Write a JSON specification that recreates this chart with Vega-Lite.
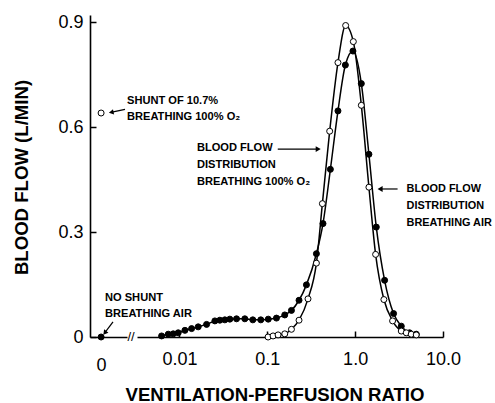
{
  "$schema": "https://vega.github.io/schema/vega-lite/v6.json",
  "background": "white",
  "padding": {"left": 12, "top": 12, "right": 0, "bottom": 0},
  "bounds": "flush",
  "spacing": 10,
  "config": {
    "view": {"stroke": null},
    "axis": {
      "domainColor": "black", "domainWidth": 1.6, "tickColor": "black", "tickWidth": 1.5,
      "tickSize": -6, "labelColor": "black", "labelFont": "Liberation Sans", "labelFontSize": 18,
      "titleFont": "Liberation Sans", "titleFontWeight": "bold", "titleFontSize": 18.6,
      "titleColor": "black", "grid": false
    },
    "text": {"font": "Liberation Sans", "fontWeight": "bold", "fontSize": 11.1, "color": "black"}
  },
  "datasets": {
    "curves": [
      {"gas": "air", "ratio": 0.00627, "flow": 0.003},
      {"gas": "air", "ratio": 0.00746, "flow": 0.008},
      {"gas": "air", "ratio": 0.0085, "flow": 0.009},
      {"gas": "air", "ratio": 0.00969, "flow": 0.012},
      {"gas": "air", "ratio": 0.01155, "flow": 0.019},
      {"gas": "air", "ratio": 0.01376, "flow": 0.024},
      {"gas": "air", "ratio": 0.01636, "flow": 0.029},
      {"gas": "air", "ratio": 0.02038, "flow": 0.036},
      {"gas": "air", "ratio": 0.02532, "flow": 0.046},
      {"gas": "air", "ratio": 0.02885, "flow": 0.048},
      {"gas": "air", "ratio": 0.03289, "flow": 0.049},
      {"gas": "air", "ratio": 0.03749, "flow": 0.051},
      {"gas": "air", "ratio": 0.04467, "flow": 0.052},
      {"gas": "air", "ratio": 0.0555, "flow": 0.052},
      {"gas": "air", "ratio": 0.06842, "flow": 0.049},
      {"gas": "air", "ratio": 0.08437, "flow": 0.049},
      {"gas": "air", "ratio": 0.1026, "flow": 0.051},
      {"gas": "air", "ratio": 0.1272, "flow": 0.054},
      {"gas": "air", "ratio": 0.1581, "flow": 0.063},
      {"gas": "air", "ratio": 0.1884, "flow": 0.076},
      {"gas": "air", "ratio": 0.2298, "flow": 0.105},
      {"gas": "air", "ratio": 0.279, "flow": 0.149},
      {"gas": "air", "ratio": 0.3624, "flow": 0.238},
      {"gas": "air", "ratio": 0.4306, "flow": 0.324},
      {"gas": "air", "ratio": 0.5226, "flow": 0.479},
      {"gas": "air", "ratio": 0.6376, "flow": 0.646},
      {"gas": "air", "ratio": 0.7739, "flow": 0.777},
      {"gas": "air", "ratio": 0.9441, "flow": 0.817},
      {"gas": "air", "ratio": 1.1765, "flow": 0.724},
      {"gas": "air", "ratio": 1.435, "flow": 0.522},
      {"gas": "air", "ratio": 1.741, "flow": 0.314},
      {"gas": "air", "ratio": 2.164, "flow": 0.162},
      {"gas": "air", "ratio": 2.738, "flow": 0.067},
      {"gas": "air", "ratio": 3.35, "flow": 0.031},
      {"gas": "air", "ratio": 4.163, "flow": 0.012},
      {"gas": "air", "ratio": 4.961, "flow": 0.008},
      {"gas": "o2", "ratio": 0.1021, "flow": 0.0},
      {"gas": "o2", "ratio": 0.1164, "flow": 0.003},
      {"gas": "o2", "ratio": 0.1327, "flow": 0.006},
      {"gas": "o2", "ratio": 0.1581, "flow": 0.009},
      {"gas": "o2", "ratio": 0.1884, "flow": 0.022},
      {"gas": "o2", "ratio": 0.2298, "flow": 0.048},
      {"gas": "o2", "ratio": 0.2908, "flow": 0.109},
      {"gas": "o2", "ratio": 0.3624, "flow": 0.211},
      {"gas": "o2", "ratio": 0.4239, "flow": 0.381},
      {"gas": "o2", "ratio": 0.5131, "flow": 0.588},
      {"gas": "o2", "ratio": 0.6376, "flow": 0.784},
      {"gas": "o2", "ratio": 0.7798, "flow": 0.89},
      {"gas": "o2", "ratio": 0.9539, "flow": 0.844},
      {"gas": "o2", "ratio": 1.1765, "flow": 0.662},
      {"gas": "o2", "ratio": 1.435, "flow": 0.428},
      {"gas": "o2", "ratio": 1.71, "flow": 0.236},
      {"gas": "o2", "ratio": 2.125, "flow": 0.107},
      {"gas": "o2", "ratio": 2.668, "flow": 0.046},
      {"gas": "o2", "ratio": 3.35, "flow": 0.017},
      {"gas": "o2", "ratio": 3.817, "flow": 0.012},
      {"gas": "o2", "ratio": 4.351, "flow": 0.008},
      {"gas": "o2", "ratio": 4.961, "flow": 0.006}
    ],
    "shunt": [
      {"gas": "air", "ratio": 0, "flow": 0},
      {"gas": "o2", "ratio": 0, "flow": 0.64}
    ]
  },
  "hconcat": [
    {
      "width": 37,
      "height": 322,
      "layer": [
        {
          "data": {"name": "shunt"},
          "mark": {"type": "point", "filled": true, "size": 36, "opacity": 1, "strokeWidth": 1},
          "encoding": {
            "x": {
              "field": "ratio", "type": "quantitative",
              "scale": {"domain": [-0.3, 0.7], "nice": false, "zero": false},
              "axis": {"values": [0], "title": null, "labelPadding": 19, "labelFlush": false, "ticks": false}
            },
            "y": {
              "field": "flow", "type": "quantitative",
              "scale": {"domain": [0, 0.92], "nice": false},
              "axis": {
                "values": [0, 0.3, 0.6, 0.9],
                "labelExpr": "datum.value == 0 ? '0' : format(datum.value, '.1f')",
                "labelPadding": 13,
                "title": "BLOOD FLOW (L/MIN)",
                "titleX": -63, "titleY": 162, "titleBaseline": "alphabetic"
              }
            },
            "fill": {"field": "gas", "type": "nominal", "scale": {"domain": ["air", "o2"], "range": ["black", "white"]}, "legend": null},
            "stroke": {"value": "black"}
          }
        },
        {
          "data": {"values": [{}]},
          "mark": {"type": "text", "align": "left", "baseline": "middle", "lineHeight": 15.5},
          "encoding": {
            "x": {"datum": 0.7, "type": "quantitative"},
            "y": {"datum": 0.6729, "type": "quantitative"},
            "text": {"value": ["SHUNT OF 10.7%", "BREATHING 100% O₂"]}
          }
        },
        {
          "data": {"values": [{}]},
          "mark": {"type": "text", "align": "left", "baseline": "middle", "lineHeight": 16},
          "encoding": {
            "x": {"datum": 0.1054, "type": "quantitative"},
            "y": {"datum": 0.1114, "type": "quantitative"},
            "text": {"value": ["NO SHUNT", "BREATHING AIR"]}
          }
        },
        {
          "data": {"values": [{}]},
          "mark": {"type": "rule", "color": "black", "strokeWidth": 1.2},
          "encoding": {
            "x": {"datum": 0.646, "type": "quantitative"},
            "x2": {"datum": 0.2946},
            "y": {"datum": 0.6506, "type": "quantitative"},
            "y2": {"datum": 0.6423}
          }
        },
        {
          "data": {"values": [{}]},
          "mark": {"type": "rule", "color": "black", "strokeWidth": 1.2},
          "encoding": {
            "x": {"datum": 0.3216, "type": "quantitative"},
            "x2": {"datum": 0.1135},
            "y": {"datum": 0.0429, "type": "quantitative"},
            "y2": {"datum": 0.0137}
          }
        },
        {
          "data": {"values": [{}]},
          "mark": {"type": "point", "shape": "triangle", "filled": true, "color": "black", "size": 30, "opacity": 1, "angle": 258},
          "encoding": {
            "x": {"datum": 0.2946, "type": "quantitative"},
            "y": {"datum": 0.6423, "type": "quantitative"}
          }
        },
        {
          "data": {"values": [{}]},
          "mark": {"type": "point", "shape": "triangle", "filled": true, "color": "black", "size": 30, "opacity": 1, "angle": 218},
          "encoding": {
            "x": {"datum": 0.1135, "type": "quantitative"},
            "y": {"datum": 0.0137, "type": "quantitative"}
          }
        }
      ]
    },
    {
      "width": 306,
      "height": 322,
      "layer": [
        {
          "data": {"name": "curves"},
          "mark": {"type": "line", "interpolate": "monotone", "color": "black", "strokeWidth": 1.5},
          "encoding": {
            "x": {
              "field": "ratio", "type": "quantitative",
              "scale": {"type": "log", "domain": [0.00329, 10], "nice": false},
              "axis": {
                "values": [0.01, 0.1, 1, 10],
                "labelExpr": "datum.value < 0.05 ? '0.01' : datum.value < 0.5 ? '0.1' : datum.value < 5 ? '1.0' : '10.0'",
                "labelFlush": false,
                "labelPadding": 19,
                "title": "VENTILATION-PERFUSION RATIO",
                "titleX": 137.5, "titleY": 63, "titleBaseline": "alphabetic"
              }
            },
            "y": {"field": "flow", "type": "quantitative", "scale": {"domain": [0, 0.92], "nice": false}, "axis": null},
            "detail": {"field": "gas", "type": "nominal"}
          }
        },
        {
          "data": {"name": "curves"},
          "mark": {"type": "point", "filled": true, "size": 36, "opacity": 1, "strokeWidth": 1},
          "encoding": {
            "x": {"field": "ratio", "type": "quantitative"},
            "y": {"field": "flow", "type": "quantitative"},
            "fill": {"field": "gas", "type": "nominal", "scale": {"domain": ["air", "o2"], "range": ["black", "white"]}, "legend": null},
            "stroke": {"value": "black"}
          }
        },
        {
          "data": {"values": [{}]},
          "mark": {"type": "text", "text": "//", "fontWeight": "normal", "font": "Liberation Sans", "fontSize": 13, "align": "center", "baseline": "middle", "dx": -6},
          "encoding": {
            "x": {"datum": 0.00329, "type": "quantitative"},
            "y": {"datum": 0, "type": "quantitative"}
          }
        },
        {
          "data": {"values": [{}]},
          "mark": {"type": "text", "align": "left", "baseline": "middle", "lineHeight": 16.7},
          "encoding": {
            "x": {"datum": 0.01581, "type": "quantitative"},
            "y": {"datum": 0.5386, "type": "quantitative"},
            "text": {"value": ["BLOOD FLOW", "DISTRIBUTION", "BREATHING 100% O₂"]}
          }
        },
        {
          "data": {"values": [{}]},
          "mark": {"type": "text", "align": "left", "baseline": "middle", "lineHeight": 17, "fontSize": 10.9},
          "encoding": {
            "x": {"datum": 3.847, "type": "quantitative"},
            "y": {"datum": 0.4229, "type": "quantitative"},
            "text": {"value": ["BLOOD FLOW", "DISTRIBUTION", "BREATHING AIR"]}
          }
        },
        {
          "data": {"values": [{}]},
          "mark": {"type": "rule", "color": "black", "strokeWidth": 1.2},
          "encoding": {
            "x": {"datum": 0.1316, "type": "quantitative"},
            "x2": {"datum": 0.3652},
            "y": {"datum": 0.537, "type": "quantitative"}
          }
        },
        {
          "data": {"values": [{}]},
          "mark": {"type": "rule", "color": "black", "strokeWidth": 1.2},
          "encoding": {
            "x": {"datum": 3.041, "type": "quantitative"},
            "x2": {"datum": 1.949},
            "y": {"datum": 0.4229, "type": "quantitative"}
          }
        },
        {
          "data": {"values": [{}]},
          "mark": {"type": "point", "shape": "triangle-right", "filled": true, "color": "black", "size": 34, "opacity": 1},
          "encoding": {
            "x": {"datum": 0.3798, "type": "quantitative"},
            "y": {"datum": 0.537, "type": "quantitative"}
          }
        },
        {
          "data": {"values": [{}]},
          "mark": {"type": "point", "shape": "triangle-left", "filled": true, "color": "black", "size": 34, "opacity": 1},
          "encoding": {
            "x": {"datum": 1.924, "type": "quantitative"},
            "y": {"datum": 0.4229, "type": "quantitative"}
          }
        }
      ]
    }
  ]
}
